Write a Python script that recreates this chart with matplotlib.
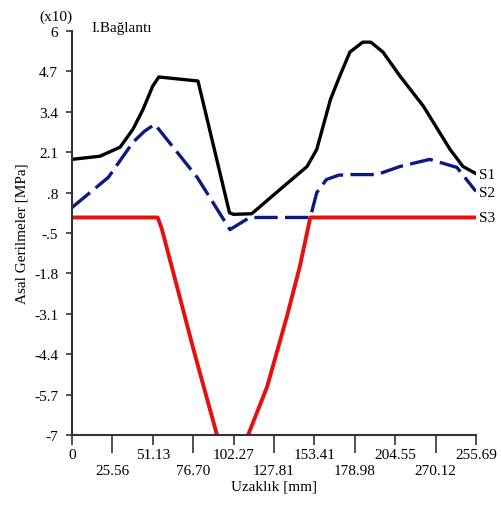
import matplotlib.pyplot as plt

plt.rcParams['font.family'] = ['Liberation Serif', 'DejaVu Serif']

# segment positions along the joint (0..10) and the tick labels printed under them
tick_labels = ['0', '25.56', '51.13', '76.70', '102.27', '127.81',
               '153.41', '178.98', '204.55', '270.12', '255.69']
y_ticks = [6, 4.7, 3.4, 2.1, 0.8, -0.5, -1.8, -3.1, -4.4, -5.7, -7]
y_labels = ['6', '4.7', '3.4', '2.1', '.8', '-.5', '-1.8', '-3.1', '-4.4', '-5.7', '-7']

# S1 principal stress
s1_x = [0, 0.69, 1.19, 1.51, 1.76, 2.0, 2.15, 3.12, 3.9, 4.0, 4.45,
        5.15, 5.82, 6.06, 6.4, 6.63, 6.88, 7.2, 7.4, 7.7, 8.12, 8.7, 9.36,
        9.68, 10.03]
s1_y = [1.87, 1.97, 2.26, 2.84, 3.48, 4.23, 4.52, 4.39, 0.15, 0.1, 0.12,
        0.9, 1.64, 2.19, 3.8, 4.55, 5.32, 5.64, 5.64, 5.32, 4.55, 3.58, 2.19,
        1.64, 1.39]

# S2 principal stress
s2_x = [0, 0.9, 1.51, 1.8, 2.05, 3.1, 3.91, 4.4, 5.9, 6.06, 6.3, 6.6, 6.88,
        7.55, 8.12, 8.86, 9.53, 10.0]
s2_y = [0.32, 1.29, 2.42, 2.78, 3.0, 1.29, -0.39, 0.0, 0.0, 0.8, 1.22, 1.36,
        1.38, 1.38, 1.64, 1.87, 1.61, 0.84]

# S3 principal stress
s3_x = [0, 2.12, 2.22, 3.04, 3.59, 3.95, 4.36, 4.83, 5.32, 5.64, 5.9, 10.0]
s3_y = [0, 0, -0.35, -4.4, -7.0, -8.6, -7.0, -5.45, -3.19, -1.58, 0, 0]

fig = plt.figure(figsize=(5.02, 5.06), dpi=100)
ax = fig.add_axes([0.1434, 0.1383, 0.8046, 0.7985])

ax.plot(s1_x, s1_y, color='black', lw=2.4, solid_joinstyle='round')
ax.plot(s2_x, s2_y, color='#0a1a80', lw=2.4, dashes=(7, 2.2))
ax.plot(s3_x, s3_y, color='#e8100c', lw=2.8, solid_joinstyle='round')

ax.set_xlim(0, 10)
ax.set_ylim(-7, 6)

for side in ['top', 'right']:
    ax.spines[side].set_visible(False)
for side in ['left', 'bottom']:
    ax.spines[side].set_color('#333333')
    ax.spines[side].set_linewidth(1.5)

ax.set_yticks(y_ticks)
ax.set_yticklabels(y_labels, fontsize=11)
ax.tick_params(axis='y', direction='out', length=4, width=1.2, color='#333333', pad=6)

# even ticks: short with labels on the first row; odd ticks: long, labels on the second row
ax.set_xticks(range(0, 11, 2))
ax.set_xticklabels(tick_labels[0::2], fontsize=11)
ax.set_xticks(range(1, 11, 2), minor=True)
ax.set_xticklabels(tick_labels[1::2], minor=True, fontsize=11)
ax.tick_params(axis='x', which='major', direction='out', length=7, width=1.2,
               color='#333333', pad=2)
ax.tick_params(axis='x', which='minor', direction='out', length=13, width=1.2,
               color='#333333', pad=-2.5)
for lbl in ax.get_xticklabels(minor=True):
    lbl.set_y(-0.035)

ax.set_xlabel('Uzaklık [mm]', fontsize=11, labelpad=2)
ax.set_ylabel('Asal Gerilmeler [MPa]', fontsize=11, labelpad=4)

fig.text(0.078, 0.966, '(x10)', fontsize=11, ha='left', va='center')
fig.text(0.183, 0.943, 'I.Bağlantı', fontsize=11, ha='left', va='center')

# series names at the right end of each line
ax.text(1.008, 1.38, 'S1', transform=ax.get_yaxis_transform(), fontsize=11, va='center', clip_on=False)
ax.text(1.008, 0.80, 'S2', transform=ax.get_yaxis_transform(), fontsize=11, va='center', clip_on=False)
ax.text(1.008, 0.0, 'S3', transform=ax.get_yaxis_transform(), fontsize=11, va='center', clip_on=False)

fig.savefig('out.png', dpi=100)
